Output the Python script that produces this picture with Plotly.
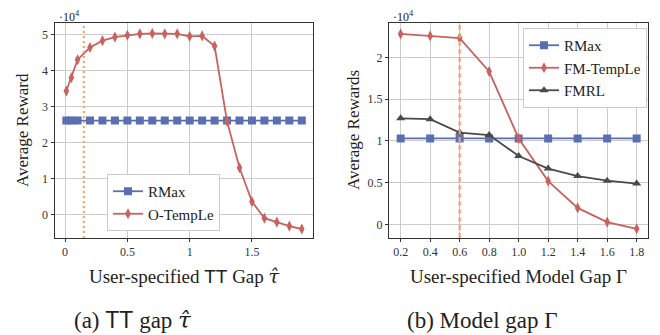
import plotly.graph_objects as go

# ---- data (rewards in units of 1e4) ----
tt_gap = [0.01, 0.05, 0.1, 0.2, 0.3, 0.4, 0.5, 0.6, 0.7, 0.8, 0.9, 1.0,
          1.1, 1.2, 1.3, 1.4, 1.5, 1.6, 1.7, 1.8, 1.9]
rmax_a = [2.62] * len(tt_gap)
otemple = [3.44, 3.81, 4.31, 4.65, 4.84, 4.94, 4.99, 5.03, 5.04, 5.03, 5.03,
           4.96, 4.97, 4.69, 2.60, 1.31, 0.37, -0.09, -0.20, -0.31, -0.39]
tt_marker = 0.15

model_gap = [0.2, 0.4, 0.6, 0.8, 1.0, 1.2, 1.4, 1.6, 1.8]
rmax_b = [1.03] * len(model_gap)
fm_temple = [2.28, 2.255, 2.23, 1.83, 1.03, 0.52, 0.20, 0.03, -0.05]
fmrl = [1.27, 1.26, 1.10, 1.07, 0.82, 0.67, 0.58, 0.525, 0.49]
model_marker = 0.6

xticks_a = [0, 0.5, 1, 1.5]
xticklabels_a = ["0", "0.5", "1", "1.5"]
yticks_a = [0, 1, 2, 3, 4, 5]
xticks_b = model_gap
yticks_b = [0, 0.5, 1, 1.5, 2]
yticklabels_b = ["0", "0.5", "1", "1.5", "2"]

BLUE = "#5a6fb3"
RED = "#c8625f"
GREY = "#4a4a4a"
ORANGE = "#f2a36f"
SERIF = "Liberation Serif"
W, H = 660, 335
OFF = 8  # page body margin offset


def px(x):
    return (x - OFF) / W


def py(y):
    return 1 - (y - OFF) / H


fig = go.Figure()

fig.add_trace(go.Scatter(x=tt_gap, y=rmax_a, name="RMax", mode="lines+markers",
                         line=dict(color=BLUE, width=1.8),
                         marker=dict(symbol="square", size=8, color=BLUE),
                         xaxis="x", yaxis="y", legend="legend"))
fig.add_trace(go.Scatter(x=tt_gap, y=otemple, name="O-TempLe", mode="lines+markers",
                         line=dict(color=RED, width=1.8),
                         marker=dict(symbol="diamond-tall", size=8, color=RED),
                         xaxis="x", yaxis="y", legend="legend"))

fig.add_trace(go.Scatter(x=model_gap, y=rmax_b, name="RMax", mode="lines+markers",
                         line=dict(color=BLUE, width=1.8),
                         marker=dict(symbol="square", size=8, color=BLUE),
                         xaxis="x2", yaxis="y2", legend="legend2"))
fig.add_trace(go.Scatter(x=model_gap, y=fm_temple, name="FM-TempLe", mode="lines+markers",
                         line=dict(color=RED, width=1.8),
                         marker=dict(symbol="diamond-tall", size=8, color=RED),
                         xaxis="x2", yaxis="y2", legend="legend2"))
fig.add_trace(go.Scatter(x=model_gap, y=fmrl, name="FMRL", mode="lines+markers",
                         line=dict(color=GREY, width=1.8),
                         marker=dict(symbol="triangle-up", size=8, color=GREY),
                         xaxis="x2", yaxis="y2", legend="legend2"))

fig.add_shape(type="line", xref="x", yref="y domain", x0=tt_marker, x1=tt_marker,
              y0=0, y1=1, line=dict(color=ORANGE, width=2.2, dash="2px,3px"), layer="above")
fig.add_shape(type="line", xref="x2", yref="y2 domain", x0=model_marker, x1=model_marker,
              y0=0, y1=1, line=dict(color=ORANGE, width=2.2, dash="5px,3px"), layer="above")

axis_common = dict(showgrid=True, gridcolor="#cccccc", gridwidth=1,
                   showline=True, linecolor="#333333", linewidth=1, mirror=True,
                   ticks="outside", ticklen=3, tickcolor="#333333",
                   tickfont=dict(family=SERIF, size=12, color="#333333"),
                   zeroline=False)

fig.update_layout(
    width=W, height=H, margin=dict(l=0, r=0, t=0, b=0),
    paper_bgcolor="white", plot_bgcolor="white",
    xaxis=dict(domain=[px(54.5), px(313)], range=[-0.085, 1.99],
               tickvals=xticks_a, ticktext=xticklabels_a, anchor="y", **axis_common),
    yaxis=dict(domain=[py(238), py(23)], range=[-0.64, 5.33],
               tickvals=yticks_a, anchor="x", **axis_common),
    xaxis2=dict(domain=[px(389), px(648.3)], range=[0.121, 1.879],
                tickvals=xticks_b, tickformat=".1f", anchor="y2", **axis_common),
    yaxis2=dict(domain=[py(238), py(23)], range=[-0.16, 2.41],
                tickvals=yticks_b, ticktext=yticklabels_b, anchor="x2", **axis_common),
    legend=dict(x=px(107), y=py(174), xanchor="left", yanchor="top",
                bgcolor="white", bordercolor="#cccccc", borderwidth=1,
                font=dict(family=SERIF, size=15, color="#222"), tracegroupgap=0,
                itemwidth=30),
    legend2=dict(x=px(523), y=py(28), xanchor="left", yanchor="top",
                 bgcolor="white", bordercolor="#cccccc", borderwidth=1,
                 font=dict(family=SERIF, size=15, color="#222"), tracegroupgap=0,
                 itemwidth=30),
    showlegend=True,
)

TAU = '<span style="font-family:DejaVu Serif"><i>τ̂</i></span>'
TT = '<span style="font-family:Liberation Sans">TT</span>'
ann_font = dict(family=SERIF, color="#222")
annotations = [
    dict(text="·10<sup>4</sup>", x=px(58), y=py(8), xanchor="left", yanchor="top",
         borderpad=0, font=dict(size=12, **ann_font)),
    dict(text="·10<sup>4</sup>", x=px(392), y=py(8), xanchor="left", yanchor="top",
         borderpad=0, font=dict(size=12, **ann_font)),
    dict(text="Average Reward", x=px(22), y=py(130), textangle=-90,
         xanchor="center", yanchor="middle", font=dict(size=17, **ann_font)),
    dict(text="Average Rewards", x=px(353), y=py(130), textangle=-90,
         xanchor="center", yanchor="middle", font=dict(size=17, **ann_font)),
    dict(text="User-specified " + TT + " Gap " + TAU,
         x=px(184), y=py(276), xanchor="center", yanchor="middle",
         font=dict(size=19, **ann_font)),
    dict(text="User-specified Model Gap Γ", x=px(518), y=py(276),
         xanchor="center", yanchor="middle", font=dict(size=19, **ann_font)),
    dict(text="(a) " + TT + " gap " + TAU,
         x=px(133), y=py(320), xanchor="center", yanchor="middle",
         font=dict(size=23, **ann_font)),
    dict(text="(b) Model gap Γ", x=px(482), y=py(320), xanchor="center",
         yanchor="middle", font=dict(size=23, **ann_font)),
]
for a in annotations:
    a.update(xref="paper", yref="paper", showarrow=False)
fig.update_layout(annotations=annotations)

fig.write_html("out.html")
